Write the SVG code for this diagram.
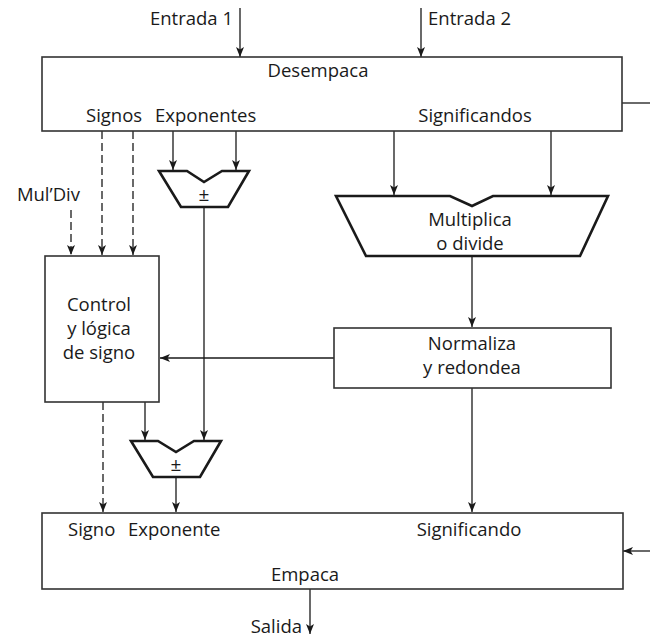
<svg xmlns="http://www.w3.org/2000/svg" width="650" height="639" viewBox="0 0 650 639">
<style>
.box{fill:#fff;stroke:#333;stroke-width:1.6}
.alu{fill:#fff;stroke:#1a1a1a;stroke-width:2.6;stroke-linejoin:miter}
.ln{fill:none;stroke:#1a1a1a;stroke-width:1.3}
.arr{marker-end:url(#ah)}
.dash{stroke-dasharray:8 4}
text{font-family:"Open Sans","Liberation Sans",sans-serif;font-size:18.5px;fill:#1a1a1a}
.c{text-anchor:middle}
.e{text-anchor:end}
.pm{font-size:19px}
</style>
<defs>
<marker id="ah" viewBox="0 0 10 8" markerWidth="10" markerHeight="8" refX="10" refY="4" orient="auto" markerUnits="userSpaceOnUse">
<path d="M0,0 L10,4 L0,8 L2.5,4 z" fill="#1a1a1a"/>
</marker>
</defs>
<g id="connectors">
<path class="ln arr" d="M240,8 V57"/>
<path class="ln arr" d="M421,8 V57"/>
<path class="ln" d="M622,103 H650"/>
<path class="ln arr dash" d="M102,131 V255"/>
<path class="ln arr dash" d="M133,131 V255"/>
<path class="ln arr dash" d="M71,210 V255"/>
<path class="ln arr" d="M173,131 V170"/>
<path class="ln arr" d="M236,131 V170"/>
<path class="ln arr" d="M394,131 V195"/>
<path class="ln arr" d="M551,131 V195"/>
<path class="ln arr" d="M204,207 V440"/>
<path class="ln arr" d="M472,256 V327"/>
<path class="ln arr" d="M334,358 H160"/>
<path class="ln arr" d="M145,402 V440"/>
<path class="ln arr dash" d="M103,402 V512"/>
<path class="ln arr" d="M176,477 V512"/>
<path class="ln arr" d="M472,388 V512"/>
<path class="ln arr" d="M650,551 H623"/>
<path class="ln arr" d="M310,589 V634"/>
</g>
<g id="labels-in">
<text class="e" x="233" y="25">Entrada 1</text>
<text x="428" y="25">Entrada 2</text>
<text class="e" x="80" y="201">Mul’Div</text>
<text class="e" x="302" y="633">Salida</text>
</g>
<g id="desempaca">
<rect class="box" x="42" y="57" width="580" height="74"/>
<text class="c" x="318" y="77">Desempaca</text>
<text x="86" y="122">Signos</text>
<text x="155" y="122">Exponentes</text>
<text class="c" x="475" y="122">Significandos</text>
</g>
<g id="addsub1">
<path class="alu" d="M159,171 H187 L204,182 L222,171 H249 L228,207 H181 Z"/>
<text class="c pm" x="204" y="201">±</text>
</g>
<g id="multiplica">
<path class="alu" d="M336,196 H450 L472,206 L493,196 H608 L580,256 H366 Z"/>
<text class="c" x="470" y="226">Multiplica</text>
<text class="c" x="470" y="250">o divide</text>
</g>
<g id="control">
<rect class="box" x="45" y="256" width="114" height="146"/>
<text class="c" x="99" y="311">Control</text>
<text class="c" x="99" y="335">y lógica</text>
<text class="c" x="99" y="359">de signo</text>
</g>
<g id="normaliza">
<rect class="box" x="334" y="328" width="277" height="60"/>
<text class="c" x="472" y="350">Normaliza</text>
<text class="c" x="472" y="374">y redondea</text>
</g>
<g id="addsub2">
<path class="alu" d="M131,441 H158 L176,452 L194,441 H221 L200,477 H153 Z"/>
<text class="c pm" x="176" y="471">±</text>
</g>
<g id="empaca">
<rect class="box" x="42" y="513" width="581" height="76"/>
<text x="68" y="536">Signo</text>
<text x="128" y="536">Exponente</text>
<text class="c" x="469" y="536">Significando</text>
<text class="c" x="305" y="581">Empaca</text>
</g>
</svg>
